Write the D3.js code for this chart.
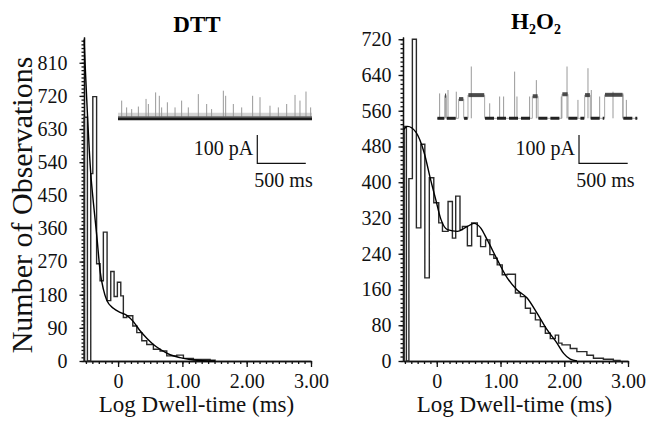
<!DOCTYPE html>
<html>
<head>
<meta charset="utf-8">
<script src="https://cdn.jsdelivr.net/npm/d3@7"></script>
<style>
  body { margin: 0; background: #fff; }
  svg { font-family: "Liberation Serif", "Times New Roman", serif; }
</style>
</head>
<body>
<svg id="chart" width="647" height="425"></svg>
<script>
// x ticks shared by both panels
const xTickValues = [0, 1, 2, 3];
const xTickLabels = ["0", "1.00", "2.00", "3.00"];

// DTT panel
const dttYTicks = [0, 90, 180, 270, 360, 450, 540, 630, 720, 810];
const dttBinEdges = [-0.529, -0.477, -0.425, -0.393, -0.334, -0.280, -0.229, -0.171, -0.114, -0.062,
  -0.011, 0.042, 0.082, 0.135, 0.229, 0.291, 0.369, 0.446, 0.549, 0.653,
  0.757, 0.913, 1.016, 1.171, 1.431, 1.509];
const dttCounts = [662, 0, 509, 718, 264, 218, 350, 164, 243, 175,
  214, 177, 118, 123, 95, 77, 55, 45, 32, 27,
  14, 16, 7, 4, 2];
const dttFitX = [-0.529, -0.425, -0.384, -0.331, -0.280, -0.229, -0.176, -0.073, 0.031, 0.135,
  0.238, 0.342, 0.446, 0.549, 0.653, 0.809, 0.964, 1.12, 1.275, 1.509];
const dttFitY = [873, 510, 430, 340, 245, 195, 165, 143, 132, 124,
  107, 82, 62, 45, 32, 17, 9, 4, 1.5, 0];

// H2O2 panel
const h2o2YTicks = [0, 80, 160, 240, 320, 400, 480, 560, 640, 720];
const h2o2BinEdges = [-0.511, -0.477, -0.4375, -0.383, -0.320, -0.25, -0.1875, -0.117, -0.047, 0.031,
  0.089, 0.177, 0.245, 0.297, 0.364, 0.402, 0.480, 0.547, 0.636, 0.6875,
  0.766, 0.833, 0.895, 0.948, 1.027, 1.105, 1.234, 1.3125, 1.39, 1.469,
  1.547, 1.625, 1.703, 1.781, 1.859, 1.911, 1.964, 2.094, 2.198, 2.355,
  2.458, 2.614, 2.770, 2.875];
const h2o2Counts = [525, 0, 408, 720, 298, 485, 186, 410, 354, 309,
  290, 357, 275, 369, 294, 301, 258, 309, 279, 256,
  271, 238, 230, 215, 193, 194, 152, 144, 118, 107,
  92, 77, 62, 50, 58, 40, 36, 28, 21, 13,
  6, 4, 1];
const h2o2FitX = [-0.52, -0.458, -0.328, -0.198, -0.094, -0.016, 0.0625, 0.167, 0.323, 0.48,
  0.583, 0.6875, 0.792, 0.948, 1.105, 1.26, 1.417, 1.573, 1.73, 1.886,
  1.99, 2.094, 2.2];
const h2o2FitY = [518, 525, 512, 466, 404, 361, 318, 294, 290, 301,
  308, 298, 271, 227, 186, 159, 141, 107, 70, 40,
  17, 4, 0];

// inset current traces (ms, pA)
const dttSpikeTimes = [38, 89, 141, 210, 289, 313, 388, 426, 450, 509, 588, 656, 725, 828, 914,
  965, 1086, 1110, 1189, 1275, 1388, 1464, 1567, 1653, 1739, 1825, 1876, 1938, 1986];
const dttSpikeAmps = [65, 41, 35, 44, 71, 53, 94, 82, 41, 59, 41, 65, 41, 88, 53,
  35, 100, 82, 53, 41, 82, 77, 47, 41, 53, 85, 65, 97, 41];

const h2o2OpenStart = [79, 222, 318, 979, 1283, 1516, 1721];
const h2o2OpenEnd = [96, 274, 489, 1037, 1345, 1574, 1909];
const h2o2OpenLevel = [80, 68, 82, 78, 85, 82, 83];
const h2o2SpikeTimes = [27, 89, 113, 198, 352, 541, 643, 684, 797, 821, 951, 1020, 1276, 1335,
  1447, 1550, 1584, 1670, 1807, 1909, 1944];
const h2o2SpikeAmps = [88, 88, 100, 94, 183, 53, 77, 77, 165, 77, 77, 135, 77, 183,
  65, 177, 100, 77, 94, 88, 65];

const svg = d3.select("#chart");
const yBase = 361;
const yTopPx = 37;
const fontTick = 20;

function histPoints(edges, counts) {
  const pts = [[edges[0], 0]];
  counts.forEach((c, i) => {
    pts.push([edges[i], c]);
    pts.push([edges[i + 1], c]);
  });
  pts.push([edges[edges.length - 1], 0]);
  return pts;
}

function drawPanel(p) {
  const x = d3.scaleLinear().domain([-0.53, 3.0]).range([p.left, p.right]);
  const y = d3.scaleLinear().domain([0, p.yMax]).range([yBase, yTopPx]);
  const g = svg.append("g");

  // minor x ticks
  g.append("g")
    .attr("transform", `translate(0,${yBase})`)
    .call(d3.axisBottom(x).tickValues(d3.range(-5, 31).map(d => d / 10)).tickSize(3).tickSizeOuter(0).tickFormat(""));
  // major x ticks + labels
  g.append("g")
    .attr("transform", `translate(0,${yBase})`)
    .call(d3.axisBottom(x).tickValues(xTickValues).tickSize(6).tickSizeOuter(0).tickPadding(7)
      .tickFormat((d, i) => xTickLabels[i]));

  g.append("g")
    .attr("transform", `translate(${p.left},0)`)
    .call(d3.axisLeft(y).tickValues(d3.range(0, p.yMax, 10)).tickSize(2.5).tickSizeOuter(0).tickFormat(""));
  g.append("g")
    .attr("transform", `translate(${p.left},0)`)
    .call(d3.axisLeft(y).tickValues(p.yTicks).tickSize(4.5).tickSizeOuter(0).tickPadding(p.labelPad));

  g.selectAll(".tick text").attr("font-size", fontTick).attr("font-family", "Liberation Serif").attr("fill", "#111");
  g.selectAll(".domain, .tick line").attr("stroke", "#111").attr("stroke-width", 1.3);

  // histogram outline
  const line = d3.line().x(d => x(d[0])).y(d => y(d[1]));
  g.append("path")
    .attr("d", line(histPoints(p.edges, p.counts)))
    .attr("fill", "none")
    .attr("stroke", "#2a2a2a")
    .attr("stroke-width", 1.4);

  // fitted curve
  const fit = d3.line().curve(d3.curveMonotoneX).x(d => x(d[0])).y(d => y(d[1]));
  g.append("path")
    .attr("d", fit(p.fitX.map((v, i) => [v, p.fitY[i]])))
    .attr("fill", "none")
    .attr("stroke", "#000")
    .attr("stroke-width", 1.4);

  // x label
  g.append("text")
    .attr("x", (p.left + p.right) / 2 - 1)
    .attr("y", 412)
    .attr("text-anchor", "middle")
    .attr("font-size", 23)
    .attr("fill", "#111")
    .text("Log Dwell-time (ms)");
}

drawPanel({ left: 84, right: 311, yMax: 880, yTicks: dttYTicks, labelPad: 12,
  edges: dttBinEdges, counts: dttCounts, fitX: dttFitX, fitY: dttFitY });
drawPanel({ left: 403, right: 628, yMax: 725, yTicks: h2o2YTicks, labelPad: 7,
  edges: h2o2BinEdges, counts: h2o2Counts, fitX: h2o2FitX, fitY: h2o2FitY });

// y label
svg.append("text")
  .attr("transform", "translate(32,205) rotate(-90)")
  .attr("text-anchor", "middle")
  .attr("font-size", 30)
  .attr("fill", "#111")
  .text("Number of Observations");

// titles
svg.append("text")
  .attr("x", 197).attr("y", 32)
  .attr("text-anchor", "middle")
  .attr("font-size", 23).attr("font-weight", "bold")
  .text("DTT");
const t2 = svg.append("text")
  .attr("x", 536).attr("y", 29)
  .attr("text-anchor", "middle")
  .attr("font-size", 23).attr("font-weight", "bold");
t2.append("tspan").text("H");
t2.append("tspan").attr("font-size", 14).attr("dy", 5).text("2");
t2.append("tspan").attr("dy", -5).text("O");
t2.append("tspan").attr("font-size", 14).attr("dy", 5).text("2");

// inset traces
function drawScaleBar(tx, cy, bar) {
  const bx = tx(bar.t), by0 = cy(bar.c), by1 = cy(bar.c - 100), bx1 = tx(bar.t + 500);
  svg.append("path")
    .attr("d", `M${bx},${by0}V${by1}H${bx1}`)
    .attr("fill", "none").attr("stroke", "#111").attr("stroke-width", 1.2);
  svg.append("text").attr("x", bx - 4).attr("y", by0 + 20)
    .attr("text-anchor", "end").attr("font-size", 20).attr("fill", "#111").text("100 pA");
  svg.append("text").attr("x", (bx + bx1) / 2 + 2).attr("y", by1 + 24)
    .attr("text-anchor", "middle").attr("font-size", 20).attr("fill", "#111").text("500 ms");
}

// DTT trace
{
  const tx = d3.scaleLinear().domain([0, 2000]).range([118, 312]);
  const cy = d3.scaleLinear().domain([0, 100]).range([119, 90.7]);
  const seg = d3.line().x(d => tx(d[0])).y(d => cy(d[1]));
  svg.append("path").attr("d", seg([[0, 13], [2000, 13]]))
    .attr("stroke", "#aaa").attr("stroke-width", 5).attr("opacity", 0.5);
  svg.selectAll(".dttSpike").data(dttSpikeTimes).enter().append("path")
    .attr("d", (d, i) => seg([[d, 0], [d, dttSpikeAmps[i]]]))
    .attr("stroke", "#999").attr("stroke-width", 1);
  svg.append("path").attr("d", seg([[0, 5], [2000, 5]]))
    .attr("stroke", "#666").attr("stroke-width", 2.5);
  svg.append("path").attr("d", seg([[0, 0], [2000, 0]]))
    .attr("stroke", "#1a1a1a").attr("stroke-width", 2.5);
  drawScaleBar(tx, cy, { t: 1436, c: -56.5 });
}

// H2O2 trace
{
  const tx = d3.scaleLinear().domain([0, 2000]).range([437, 631.8]);
  const cy = d3.scaleLinear().domain([0, 100]).range([118.3, 90]);
  const seg = d3.line().x(d => tx(d[0])).y(d => cy(d[1]));
  const step = [[0, 0]];
  h2o2OpenStart.forEach((s, i) => {
    step.push([s, 0], [s, h2o2OpenLevel[i]], [h2o2OpenEnd[i], h2o2OpenLevel[i]], [h2o2OpenEnd[i], 0]);
  });
  step.push([2060, 0]);
  svg.append("path").attr("d", seg(step))
    .attr("fill", "none").attr("stroke", "#aaa").attr("stroke-width", 1);
  svg.selectAll(".h2o2Spike").data(h2o2SpikeTimes).enter().append("path")
    .attr("d", (d, i) => seg([[d, 0], [d, h2o2SpikeAmps[i]]]))
    .attr("stroke", "#999").attr("stroke-width", 1);
  // closed dwell segments
  const closed = [];
  let prev = 0;
  h2o2OpenStart.forEach((s, i) => { closed.push([prev, s]); prev = h2o2OpenEnd[i]; });
  closed.push([prev, 2060]);
  closed.forEach(c => {
    svg.append("path").attr("d", seg([[c[0] + 4, 0], [c[1] - 4, 0]]))
      .attr("stroke", "#222").attr("stroke-width", 3).attr("stroke-dasharray", "9,3");
  });
  h2o2OpenStart.forEach((s, i) => {
    svg.append("path").attr("d", seg([[s + 4, h2o2OpenLevel[i]], [h2o2OpenEnd[i] - 4, h2o2OpenLevel[i]]]))
      .attr("stroke", "#333").attr("stroke-width", 4).attr("opacity", 0.85);
  });
  drawScaleBar(tx, cy, { t: 1458, c: -59 });
}
</script>
</body>
</html>
